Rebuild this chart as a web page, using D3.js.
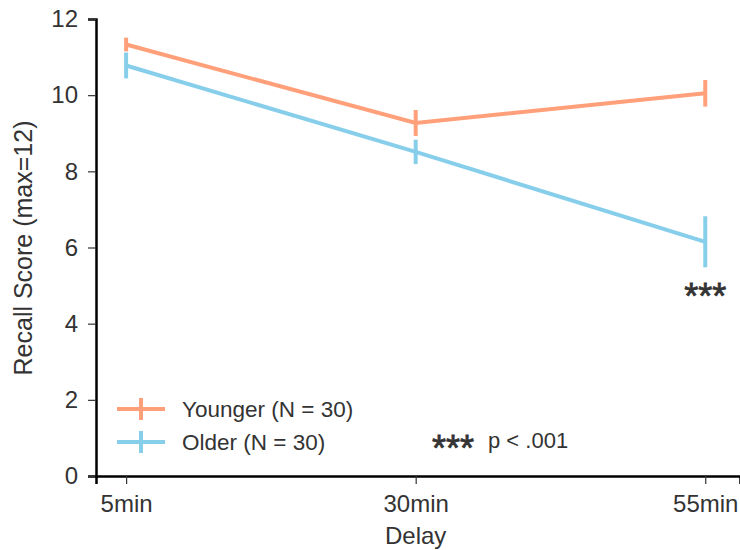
<!DOCTYPE html>
<html>
<head>
<meta charset="utf-8">
<script src="https://cdn.jsdelivr.net/npm/d3@7"></script>
<style>
  body { margin: 0; background: #fff; }
  text { font-family: "Liberation Sans", Arial, sans-serif; fill: #333; }
</style>
</head>
<body>
<div id="chart"></div>
<script>
// values
var delays = ["5min", "30min", "55min"];
var youngerMean = [11.33, 9.27, 10.05];
var youngerErr = [0.18, 0.34, 0.35];
var olderMean = [10.78, 8.51, 6.15];
var olderErr = [0.34, 0.32, 0.67];
var yTicks = [0, 2, 4, 6, 8, 10, 12];
var groups = ["Younger (N = 30)", "Older (N = 30)"];
var colors = ['#ffa07a', '#87ceeb'];

var W = 740, H = 550;
var xScale = d3.scaleLinear()
        .domain([-0.104, 2.12])
        .range([96, 740]);
var yScale = d3.scaleLinear()
        .domain([0, 12])
        .range([476, 19]);

var svg = d3.select('#chart').append('svg')
        .attr('width', W)
        .attr('height', H);

// axes
var yAxis = d3.axisLeft(yScale).tickValues(yTicks).tickSize(8).tickPadding(10);
var yGuide = svg.append('g').attr('transform', 'translate(' + xScale.range()[0] + ',0)');
yAxis(yGuide);

var xAxis = d3.axisBottom(xScale).tickValues([0, 1, 2]).tickSize(8).tickPadding(11)
        .tickFormat(function(d){ return delays[d]; });
var xGuide = svg.append('g').attr('transform', 'translate(0,' + yScale(0) + ')');
xAxis(xGuide);

[yGuide, xGuide].forEach(function(g){
        g.select('.domain').attr('stroke', '#000').attr('stroke-width', 2.5);
        g.selectAll('.tick line').attr('stroke', '#333').attr('stroke-width', 1.2);
        g.selectAll('.tick text').style('font-size', '24px').attr('fill', '#333');
        g.attr('font-family', null).attr('font-size', null);
});

svg.append('text')
        .attr('transform', 'translate(32,248) rotate(-90)')
        .attr('text-anchor', 'middle')
        .style('font-size', '25px')
        .text('Recall Score (max=12)');
svg.append('text')
        .attr('x', xScale(1))
        .attr('y', 544)
        .attr('text-anchor', 'middle')
        .style('font-size', '24px')
        .text('Delay');

// series
var series = [
        { name: groups[0], mean: youngerMean, err: youngerErr, color: colors[0] },
        { name: groups[1], mean: olderMean, err: olderErr, color: colors[1] }
];

var line = d3.line()
        .x(function(d, i){ return xScale(i); })
        .y(function(d){ return yScale(d); });

series.forEach(function(s){
        var g = svg.append('g');
        g.append('path')
                .datum(s.mean)
                .attr('d', line)
                .attr('fill', 'none')
                .attr('stroke', s.color)
                .attr('stroke-width', 4);
        g.selectAll('line.err')
                .data(s.mean)
                .enter()
                .append('line')
                .attr('class', 'err')
                .attr('x1', function(d, i){ return xScale(i); })
                .attr('x2', function(d, i){ return xScale(i); })
                .attr('y1', function(d, i){ return yScale(d + s.err[i]); })
                .attr('y2', function(d, i){ return yScale(d - s.err[i]); })
                .attr('stroke', s.color)
                .attr('stroke-width', 4);
});

// significance marker
svg.append('text')
        .attr('x', xScale(2))
        .attr('y', 309)
        .attr('text-anchor', 'middle')
        .style('font-size', '36px')
        .style('stroke', '#333').style('stroke-width', 0.8)
        .text('***');

// legend
series.forEach(function(s, i){
        var y = 409 + i * 33;
        svg.append('line')
                .attr('x1', 117).attr('x2', 165)
                .attr('y1', y).attr('y2', y)
                .attr('stroke', s.color).attr('stroke-width', 4);
        svg.append('line')
                .attr('x1', 141).attr('x2', 141)
                .attr('y1', y - 11).attr('y2', y + 11)
                .attr('stroke', s.color).attr('stroke-width', 4);
        svg.append('text')
                .attr('x', 182)
                .attr('y', y + 8)
                .style('font-size', '22.5px')
                .text(s.name);
});
svg.append('text')
        .attr('x', 432)
        .attr('y', 461)
        .style('font-size', '36px')
        .style('stroke', '#333').style('stroke-width', 0.8)
        .text('***');
svg.append('text')
        .attr('x', 488)
        .attr('y', 448)
        .style('font-size', '22px')
        .text('p < .001');
</script>
</body>
</html>
